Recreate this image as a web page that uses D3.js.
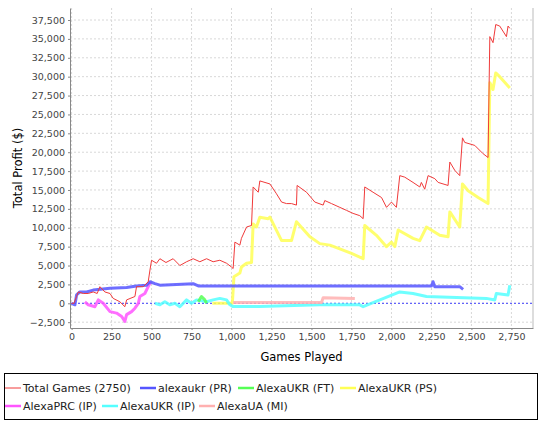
<!DOCTYPE html>
<html><head><meta charset="utf-8">
<script src="https://cdn.jsdelivr.net/npm/d3@7"></script>
<style>body{margin:0;background:#fff;font-family:"DejaVu Sans",sans-serif;}</style>
</head><body><svg id="c" width="543" height="424"></svg>
<script>
// series as [games, profit] pairs
var totalGames = [[0,0],[15,0],[31,900],[42,1500],[73,1300],[104,1300],[135,1500],[160,1300],[177,2200],[208,1500],[240,1300],[260,650],[302,200],[333,-450],[344,450],[396,900],[406,2200],[448,2200],[479,2850],[490,4400],[500,5700],[531,5300],[552,5900],[590,5400],[635,5900],[677,5000],[719,5500],[740,5700],[760,5900],[802,5500],[844,5900],[885,5500],[927,5700],[969,5300],[1000,4800],[1010,4600],[1021,8100],[1052,7700],[1062,8600],[1094,10100],[1125,10300],[1135,15400],[1167,14700],[1177,16200],[1240,15800],[1281,14500],[1313,13400],[1344,13200],[1375,13200],[1406,13000],[1410,15600],[1469,14700],[1521,13400],[1573,13000],[1583,13600],[1625,13200],[1677,12700],[1719,12300],[1760,11900],[1802,11600],[1823,11200],[1833,15400],[1885,14700],[1938,14000],[1969,12700],[2000,13400],[2031,12700],[2052,16900],[2083,16700],[2135,16000],[2177,15400],[2187,16000],[2208,15100],[2229,16900],[2271,16500],[2292,16000],[2354,15600],[2365,18700],[2396,17600],[2427,16900],[2444,21900],[2458,21300],[2521,20900],[2573,19800],[2604,19300],[2615,35300],[2635,34500],[2652,36900],[2677,36700],[2719,35300],[2729,36700],[2740,36400]];
var alexaukrPR = [[0,0],[21,-200],[31,1100],[52,1500],[94,1500],[135,1750],[240,2000],[344,2100],[406,2300],[469,2400],[490,2850],[521,2600],[552,2400],[760,2600],[792,2300],[1800,2300],[2250,2300],[2260,2850],[2271,2200],[2427,2200],[2448,1850]];
var alexaUkrFT = [[792,200],[812,900],[833,450],[844,0]];
var alexaUkrPS = [[880,0],[1005,0],[1015,3500],[1052,4000],[1062,4800],[1094,5300],[1125,5400],[1135,10500],[1156,10100],[1177,11400],[1229,11200],[1240,11400],[1313,8300],[1375,8300],[1406,10800],[1490,8800],[1552,7900],[1615,7700],[1677,7200],[1750,6600],[1823,5900],[1833,10300],[1906,9000],[1969,7500],[2000,8100],[2021,7500],[2042,9700],[2135,8600],[2177,8300],[2219,10100],[2302,9000],[2354,8800],[2365,12100],[2427,10100],[2444,15800],[2479,14900],[2542,14000],[2604,13200],[2615,29200],[2635,28300],[2652,30500],[2677,30000],[2719,29000],[2740,28500]];
var alexaPrcIP = [[83,200],[104,-200],[146,-450],[167,450],[198,0],[240,-1100],[281,-1300],[313,-1750],[333,-2400],[344,-1500],[375,-1100],[396,-650],[417,0],[427,900],[458,1300],[479,2200],[494,2850]];
var alexaUkrIP = [[521,0],[552,-200],[583,200],[614,-200],[646,0],[677,-450],[719,450],[750,0],[781,450],[844,200],[885,450],[927,650],[969,450],[990,-200],[1010,-440],[1177,-440],[1552,-200],[1802,-200],[1823,-440],[2052,1500],[2135,1300],[2219,900],[2594,650],[2646,440],[2656,1300],[2729,1100],[2740,2400]];
var alexaUaMI = [[1010,100],[1563,100],[1573,750],[1771,650]];

var seriesNames = ["Total Games (2750)","alexaukr (PR)","AlexaUKR (FT)","AlexaUKR (PS)","AlexaPRC (IP)","AlexaUKR (IP)","AlexaUA (MI)"];
var seriesData = [totalGames, alexaukrPR, alexaUkrFT, alexaUkrPS, alexaPrcIP, alexaUkrIP, alexaUaMI];
var seriesColors = ["#f03a3a","#5555ff","#55ff55","#ffff55","#ff55ff","#55ffff","#ffb0b0"];
var seriesWidths = [1,3,3,3,3,3,3];
var xTicks = d3.range(0, 2751, 250);
var yTicks = d3.range(-2500, 37501, 2500);

var svg = d3.select("#c");
var L = 70, R = 533, T = 8, B = 328;
var x = d3.scaleLinear().domain([-10, 2885]).range([L, R]);
var y = d3.scaleLinear().domain([-3270, 39090]).range([B, T]);
var fmt = d3.format(",");

svg.append("rect").attr("x", L).attr("y", T).attr("width", R - L).attr("height", B - T).attr("fill", "#fff");

var grid = svg.append("g").attr("stroke", "#d8d8d8").attr("stroke-dasharray", "2,2");
grid.selectAll(".gx").data(xTicks).enter().append("line")
  .attr("x1", d => x(d)).attr("x2", d => x(d)).attr("y1", T).attr("y2", B);
grid.selectAll(".gy").data(yTicks).enter().append("line")
  .attr("y1", d => y(d)).attr("y2", d => y(d)).attr("x1", L).attr("x2", R);

svg.append("line").attr("x1", R).attr("x2", R).attr("y1", T).attr("y2", B).attr("stroke", "#bbb");

// zero marker
svg.append("line").attr("x1", L).attr("x2", R).attr("y1", y(0)).attr("y2", y(0))
  .attr("stroke", "#4444ff").attr("stroke-dasharray", "2,2");

var xAxis = svg.append("g").attr("transform", "translate(0," + B + ")")
  .call(d3.axisBottom(x).tickValues(xTicks).tickFormat(fmt).tickSizeInner(2).tickSizeOuter(0));
var yAxis = svg.append("g").attr("transform", "translate(" + L + ",0)")
  .call(d3.axisLeft(y).tickValues(yTicks).tickFormat(fmt).tickSizeInner(2).tickSizeOuter(0));
[xAxis, yAxis].forEach(function(a) {
  a.selectAll("text").attr("font-family", "DejaVu Sans").attr("font-size", "9.5px").attr("fill", "#444");
  a.selectAll("line,path").attr("stroke", "#888");
});

var line = d3.line().x(d => x(d[0])).y(d => y(d[1]));
var order = [3, 5, 4, 2, 6, 1, 0];
order.forEach(function(i) {
  svg.append("path").datum(seriesData[i]).attr("d", line).attr("fill", "none")
    .attr("stroke", seriesColors[i]).attr("stroke-width", seriesWidths[i])
    .attr("stroke-opacity", i === 0 ? 1 : 0.85).attr("stroke-linejoin", "round");
});

svg.append("text").attr("x", (L + R) / 2).attr("y", 361).attr("text-anchor", "middle")
  .attr("font-size", "11.5px").text("Games Played");
svg.append("text").attr("transform", "translate(22," + (T + B) / 2 + ") rotate(-90)")
  .attr("text-anchor", "middle").attr("font-size", "11.5px").text("Total Profit ($)");

// legend
svg.append("rect").attr("x", 4.5).attr("y", 373.5).attr("width", 533).attr("height", 46)
  .attr("fill", "none").attr("stroke", "#000");
var legendX = [5, 140, 238, 340, 5, 102, 199];
var legendY = [388, 388, 388, 388, 406, 406, 406];
seriesNames.forEach(function(name, i) {
  var g = svg.append("g").attr("transform", "translate(" + legendX[i] + "," + legendY[i] + ")");
  g.append("line").attr("x1", 0).attr("x2", 16).attr("stroke", seriesColors[i]).attr("stroke-width", i === 0 ? 1 : 2.5);
  g.append("text").attr("x", 18).attr("y", 4).attr("font-size", "11px").attr("fill", "#222").text(name);
});
</script></body></html>
